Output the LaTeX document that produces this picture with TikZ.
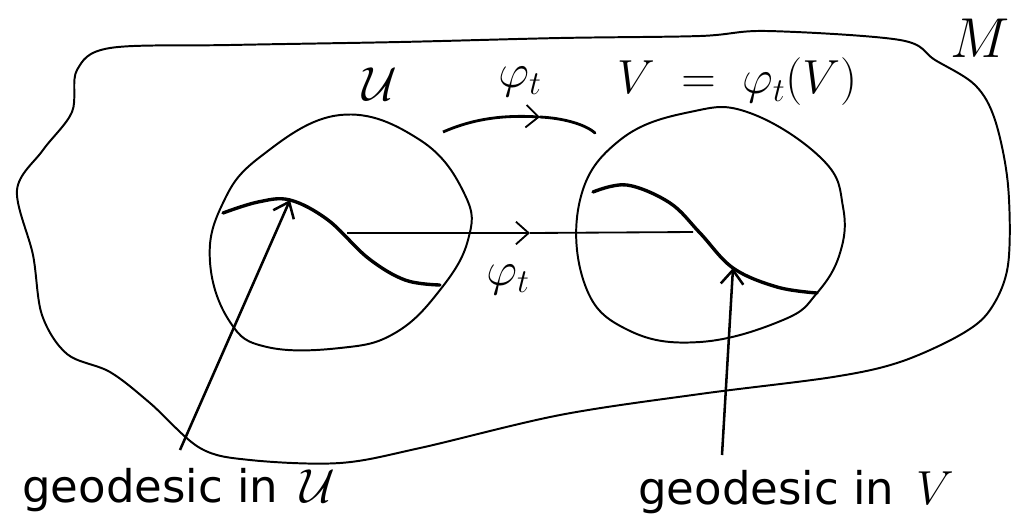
\documentclass[tikz,border=0pt]{standalone}
\usepackage{fix-cm}
\usepackage{amsmath,amssymb}
\usepackage{fontspec}
\setmainfont{DejaVu Sans}
\usetikzlibrary{arrows.meta}

\begin{document}
\begin{tikzpicture}[
    x=0.025cm, y=-0.025cm,
    every node/.style={inner sep=0pt},
    lbl/.style={font=\fontsize{34}{40}\selectfont},
    word/.style={font=\fontsize{32}{38}\selectfont},
    rim/.style={line width=1.4pt, line join=round},
    geo/.style={line width=2.4pt, line cap=round},
    flow/.style={line width=1.3pt, -{Straight Barb[length=9pt,width=16pt,line width=1.3pt]}},
    pointer/.style={line width=1.8pt, -{Straight Barb[length=10pt,width=16pt,line width=1.8pt]}}
]
    \useasboundingbox (0,0) rectangle (1025,528);

    % manifold M
    \draw[rim] plot[smooth cycle, tension=0.55] coordinates {
        (17,190) (43,150) (72,112) (77,70) (110,48) (230,45) (400,42)
        (560,38) (700,36) (767,31) (900,40) (935,60) (975,85) (995,120)
        (1008,185) (1008,265) (990,310) (960,335) (900,362) (833,377)
        (700,394) (560,415) (420,448) (340,463) (250,460) (200,448)
        (150,403) (110,372) (67,354) (42,315) (33,255)};
    \node[lbl, font=\fontsize{40}{46}\selectfont] (M) at (980,38) {$M$};

    % U
    \draw[rim] plot[smooth cycle, tension=0.7] coordinates {
        (340,115) (420,140) (465,195) (468,240) (440,290) (395,333)
        (340,348) (267,347) (230,322) (210,262) (222,205) (260,157)};
    \node[lbl] (lU) at (380,84) {$\mathcal{U}$};

    % V
    \draw[rim] plot[smooth cycle, tension=0.7] coordinates {
        (690,112) (750,113) (823,160) (843,207) (840,253) (817,293)
        (783,320) (700,342) (628,330) (585,285) (580,200) (620,140)};
    \node[lbl] (lV) at (737,82) {$V \;=\; \varphi_t(V)$};

    % geodesics
    \coordinate (gu0) at (223,213);
    \coordinate (gu1) at (290,200);
    \coordinate (gu2) at (440,285);
    \draw[geo] plot[smooth, tension=0.6] coordinates {
        (gu0) (258,202) (gu1) (328,220) (368,258) (405,280) (gu2)};
    \coordinate (gv0) at (593,192);
    \coordinate (gv1) at (733,268);
    \coordinate (gv2) at (817,293);
    \draw[geo] plot[smooth, tension=0.6] coordinates {
        (gv0) (627,185) (670,203) (700,233) (gv1) (777,287) (gv2)};

    % flow between the points
    \coordinate (a0) at (347,233);
    \coordinate (am) at (530,233);
    \coordinate (a1) at (693,232);
    \draw[flow] (a0) -- (am);
    \draw[line width=1.3pt] (am) -- (a1);
    \node[lbl] (phi1) at (508,280) {$\varphi_t$};

    % flow between the sets
    \coordinate (b0) at (443,132);
    \coordinate (bm) at (540,117);
    \coordinate (b1) at (595,133);
    \draw[flow, line width=2pt] (b0) .. controls (475,118) and (505,115) .. (bm);
    \draw[line width=2pt, line cap=round] (bm) .. controls (562,118) and (585,124) .. (b1);
    \node[lbl] (phi2) at (520,82) {$\varphi_t$};

    % labels below
    \node[word, anchor=west] (geoU) at (22,490) {geodesic in\, \fontsize{34}{40}\selectfont$\mathcal{U}$};
    \node[word, anchor=west] (geoV) at (638,492) {geodesic in\, \fontsize{34}{40}\selectfont$V$};
    \coordinate (pU) at (180,450);
    \coordinate (pV) at (722,455);
    \draw[pointer] (pU) -- (gu1);
    \draw[pointer] (pV) -- (gv1);
\end{tikzpicture}
\end{document}
